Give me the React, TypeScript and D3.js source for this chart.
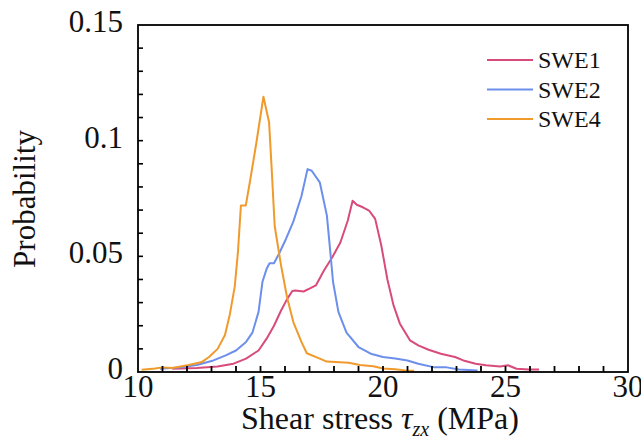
import React from "react";
import * as d3 from "d3";

const swe1X = [11.4, 12.4, 13.24, 13.9, 14.41, 14.92, 15.25, 15.55, 15.84, 16.09, 16.3, 16.42, 16.76, 17.0, 17.26, 17.59, 17.93, 18.26, 18.56, 18.76, 18.93, 19.18, 19.43, 19.68, 19.93, 20.18, 20.43, 20.69, 21.1, 21.44, 21.86, 22.36, 22.94, 23.28, 23.78, 24.2, 24.78, 25.1, 25.45, 25.95, 26.37];
const swe1Y = [0.0014, 0.0017, 0.0024, 0.0036, 0.0058, 0.0093, 0.0144, 0.02, 0.0266, 0.0316, 0.035, 0.0352, 0.0348, 0.036, 0.0374, 0.0439, 0.0496, 0.056, 0.0654, 0.074, 0.0723, 0.0712, 0.0698, 0.0662, 0.0547, 0.04, 0.0288, 0.0209, 0.0137, 0.0115, 0.0096, 0.0079, 0.0065, 0.005, 0.0036, 0.0029, 0.0024, 0.0029, 0.0014, 0.0011, 0.0011];

const swe2X = [10.9, 11.74, 12.4, 13.08, 13.58, 14.0, 14.41, 14.67, 14.92, 15.08, 15.25, 15.37, 15.55, 15.75, 16.04, 16.34, 16.67, 16.92, 17.09, 17.42, 17.71, 17.84, 17.96, 18.18, 18.51, 19.0, 19.5, 20.0, 20.5, 21.0, 21.44, 22.1, 22.6, 23.1, 23.86];
const swe2Y = [0.0014, 0.002, 0.003, 0.005, 0.0072, 0.0093, 0.013, 0.017, 0.026, 0.039, 0.0446, 0.047, 0.047, 0.051, 0.0575, 0.065, 0.076, 0.0877, 0.087, 0.082, 0.0676, 0.053, 0.039, 0.026, 0.017, 0.0108, 0.0079, 0.0065, 0.0058, 0.005, 0.0036, 0.002, 0.002, 0.0011, 0.0007];

const swe4X = [10.15, 10.7, 11.0, 11.4, 12.07, 12.6, 12.9, 13.25, 13.55, 13.75, 13.95, 14.08, 14.2, 14.4, 14.58, 14.83, 15.12, 15.35, 15.45, 15.58, 15.84, 16.09, 16.34, 16.67, 16.89, 17.42, 17.7, 18.6, 19.06, 19.6, 20.0, 20.5, 20.9, 21.27];
const swe4Y = [0.001, 0.0015, 0.002, 0.0017, 0.003, 0.0043, 0.0065, 0.01, 0.016, 0.025, 0.037, 0.052, 0.072, 0.072, 0.083, 0.099, 0.119, 0.108, 0.089, 0.063, 0.046, 0.032, 0.0216, 0.013, 0.0081, 0.0058, 0.0045, 0.004, 0.003, 0.0025, 0.0015, 0.0012, 0.0007, 0.0005];

const seriesNames = ["SWE1", "SWE2", "SWE4"];
const seriesColors = ["#d84b7b", "#6d8fec", "#f09a2c"];
const xTicks = [10, 15, 20, 25, 30];
const yTicks = [0, 0.05, 0.1, 0.15];
const yTickLabels = ["0", "0.05", "0.1", "0.15"];

export default function App() {
  const left = 138, right = 628, top = 25, bottom = 372;
  const x = d3.scaleLinear().domain([10, 30]).range([left, right]);
  const y = d3.scaleLinear().domain([0, 0.15]).range([bottom, top]);
  const line = d3
    .line<[number, number]>()
    .x((d) => x(d[0]))
    .y((d) => y(d[1]));
  const series = [
    d3.zip(swe1X, swe1Y) as [number, number][],
    d3.zip(swe2X, swe2Y) as [number, number][],
    d3.zip(swe4X, swe4Y) as [number, number][],
  ];
  const xMinor = d3.range(11, 30, 1);
  const yMinor = d3.range(0.01, 0.15, 0.01);
  const font = "'Liberation Serif', 'Times New Roman', serif";
  return (
    <svg
      width={641}
      height={439}
      style={{ position: "absolute", left: 0, top: 0, background: "#fff" }}
      fontFamily={font}
    >
      {series.map((s, i) => (
        <path key={i} d={line(s) || ""} fill="none" stroke={seriesColors[i]} strokeWidth={2} strokeLinejoin="round" />
      ))}
      <rect x={left} y={top} width={right - left} height={bottom - top} fill="none" stroke="#000" strokeWidth={1.8} />
      {xMinor.map((t) => (
        <line key={"xm" + t} x1={x(t)} x2={x(t)} y1={bottom} y2={bottom - 6} stroke="#000" strokeWidth={1.8} />
      ))}
      {yMinor.map((t, i) => (
        <line key={"ym" + i} x1={left} x2={left + 5} y1={y(t)} y2={y(t)} stroke="#000" strokeWidth={1.6} />
      ))}
      {xTicks.map((t) => (
        <text key={"xt" + t} x={x(t)} y={397} fontSize={31} textAnchor="middle" fill="#111">
          {t}
        </text>
      ))}
      {yTicks.map((t, i) => (
        <text key={"yt" + i} x={123} y={y(t) + 7} fontSize={31} textAnchor="end" fill="#111">
          {yTickLabels[i]}
        </text>
      ))}
      <text x={380} y={429} fontSize={32} textAnchor="middle" fill="#111">
        Shear stress{" "}
        <tspan fontStyle="italic">τ</tspan>
        <tspan fontStyle="italic" fontSize={20} dy={7}>zx</tspan>
        <tspan dy={-7}> (MPa)</tspan>
      </text>
      <text transform="translate(35,199) rotate(-90)" fontSize={31} textAnchor="middle" fill="#111">
        Probability
      </text>
      {seriesNames.map((n, i) => {
        const ly = [60, 89.5, 119][i];
        return (
          <g key={n}>
            <line x1={487} x2={533} y1={ly} y2={ly} stroke={seriesColors[i]} strokeWidth={2} />
            <text x={538} y={ly + 8} fontSize={24} fill="#111">
              {n}
            </text>
          </g>
        );
      })}
    </svg>
  );
}
